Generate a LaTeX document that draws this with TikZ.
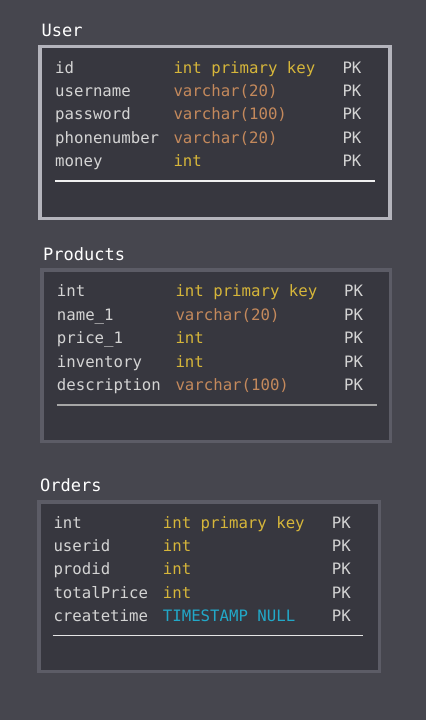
\documentclass[tikz,border=0pt]{standalone}
\usepackage{fontspec}
\setmonofont{DejaVu Sans Mono}
\definecolor{bg}{HTML}{46464E}
\definecolor{boxfill}{HTML}{37373F}
\definecolor{borderA}{HTML}{B4B4BC}
\definecolor{borderB}{HTML}{5C5C66}
\definecolor{txt}{HTML}{D4D4D4}
\definecolor{ylw}{HTML}{D6B63A}
\definecolor{org}{HTML}{C4895C}
\definecolor{cyn}{HTML}{22A8C8}
\begin{document}
\begin{tikzpicture}[x=1pt,y=-1pt,
  title/.style={anchor=west,inner sep=0pt,text height=12pt,text depth=0pt,text=white,font=\ttfamily\fontsize{17}{17}\selectfont},
  cell/.style={anchor=west,inner sep=0pt,text height=11pt,text depth=0pt,font=\ttfamily\fontsize{15.7}{16}\selectfont},
  nm/.style={cell,text=txt},
  ty/.style={cell,text=ylw},
  tv/.style={cell,text=org},
  tc/.style={cell,text=cyn},
  pk/.style={cell,text=txt},
  tbl/.style={draw,fill=boxfill,line width=3.5pt},
  divider/.style={line width=1.5pt}]
\fill[bg] (0,0) rectangle (426,720);
\useasboundingbox (0,0) rectangle (426,720);

% User
\node[title] (tU) at (41.5,30) {User};
\draw[tbl,draw=borderA] (40,46.5) rectangle (390,218.5);
\node[nm] (u1) at (55,67.7) {id};
\node[nm] (u2) at (55,91) {username};
\node[nm] (u3) at (55,114.3) {password};
\node[nm] (u4) at (55,137.7) {phonenumber};
\node[nm] (u5) at (55,161) {money};
\node[ty] (ut1) at (173.3,67.7) {int primary key};
\node[tv] (ut2) at (173.3,91) {varchar(20)};
\node[tv] (ut3) at (173.3,114.3) {varchar(100)};
\node[tv] (ut4) at (173.3,137.7) {varchar(20)};
\node[ty] (ut5) at (173.3,161) {int};
\foreach \i/\y in {1/67.7,2/91,3/114.3,4/137.7,5/161}
  \node[pk] (up\i) at (342.3,\y) {PK};
\coordinate (ud1) at (55,181);
\coordinate (ud2) at (375,181);
\draw[divider,draw=white!88!gray] (ud1) -- (ud2);

% Products
\node[title] (tP) at (43,254) {Products};
\draw[tbl,draw=borderB] (42,270) rectangle (390.5,441.5);
\node[nm] (p1) at (56.7,290.7) {int};
\node[nm] (p2) at (56.7,314.7) {name\_1};
\node[nm] (p3) at (56.7,338) {price\_1};
\node[nm] (p4) at (56.7,361.7) {inventory};
\node[nm] (p5) at (56.7,385) {description};
\node[ty] (pt1) at (175.3,290.7) {int primary key};
\node[tv] (pt2) at (175.3,314.7) {varchar(20)};
\node[ty] (pt3) at (175.3,338) {int};
\node[ty] (pt4) at (175.3,361.7) {int};
\node[tv] (pt5) at (175.3,385) {varchar(100)};
\foreach \i/\y in {1/290.7,2/314.7,3/338,4/361.7,5/385}
  \node[pk] (pp\i) at (344,\y) {PK};
\coordinate (pd1) at (56.7,405);
\coordinate (pd2) at (376.7,405);
\draw[divider,draw=gray!70!white] (pd1) -- (pd2);

% Orders
\node[title] (tO) at (40,485) {Orders};
\draw[tbl,draw=borderB] (39,502) rectangle (379.5,671.5);
\node[nm] (o1) at (53.3,522.7) {int};
\node[nm] (o2) at (53.3,546) {userid};
\node[nm] (o3) at (53.3,569.3) {prodid};
\node[nm] (o4) at (53.3,592.7) {totalPrice};
\node[nm] (o5) at (53.3,615.7) {createtime};
\node[ty] (ot1) at (162.7,522.7) {int primary key};
\node[ty] (ot2) at (162.7,546) {int};
\node[ty] (ot3) at (162.7,569.3) {int};
\node[ty] (ot4) at (162.7,592.7) {int};
\node[tc] (ot5) at (162.7,615.7) {TIMESTAMP NULL};
\foreach \i/\y in {1/522.7,2/546,3/569.3,4/592.7,5/615.7}
  \node[pk] (op\i) at (331.7,\y) {PK};
\coordinate (od1) at (52.7,635.7);
\coordinate (od2) at (363,635.7);
\draw[divider,draw=white!80!gray] (od1) -- (od2);
\end{tikzpicture}
\end{document}
